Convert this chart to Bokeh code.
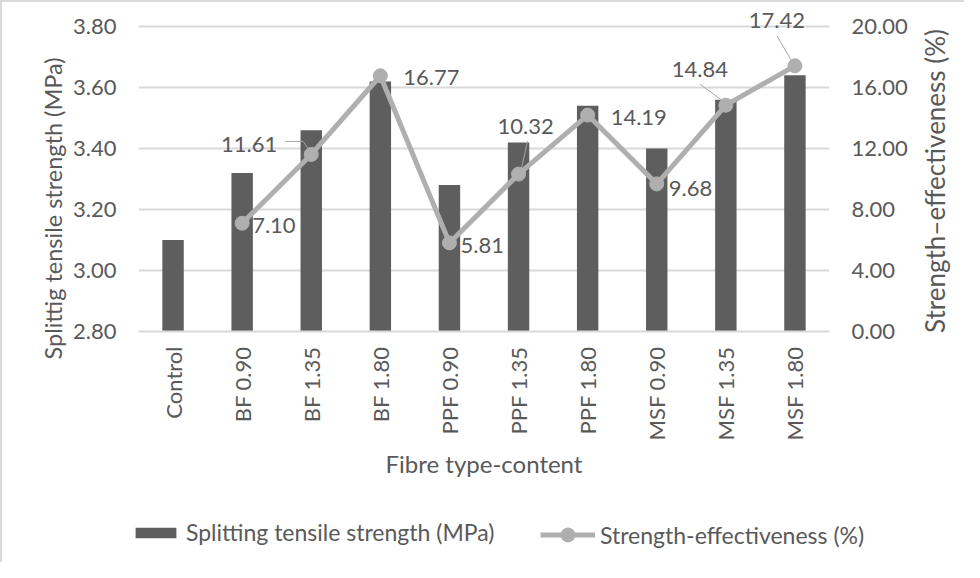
import math
from bokeh.plotting import figure
from bokeh.layouts import column, row
from bokeh.models import (Range1d, LinearAxis, FixedTicker, Legend, LegendItem,
                          ColumnDataSource, NumeralTickFormatter)
from bokeh.core.properties import value
from bokeh.embed import file_html
from bokeh.resources import INLINE

# ---------------- data ----------------
categories = ["Control", "BF 0.90", "BF 1.35", "BF 1.80", "PPF 0.90",
              "PPF 1.35", "PPF 1.80", "MSF 0.90", "MSF 1.35", "MSF 1.80"]
strength = [3.10, 3.32, 3.46, 3.62, 3.28, 3.42, 3.54, 3.40, 3.56, 3.64]
effectiveness = [float("nan"), 7.10, 11.61, 16.77, 5.81, 10.32, 14.19, 9.68, 14.84, 17.42]
left_ticks = [2.80, 3.00, 3.20, 3.40, 3.60, 3.80]
right_ticks = [0.0, 4.0, 8.0, 12.0, 16.0, 20.0]
x_title = "Fibre type-content"
left_title = "Splittig tensile strength (MPa)"
right_title = "Strength\u2013effectiveness (%)"
series_names = ["Splitting tensile strength (MPa)", "Strength-effectiveness (%)"]

# ---------------- style ----------------
FONT = "Lato"
TXT = "#595959"
GRID = "#d9d9d9"
BAR = "#5e5e5e"
LINE = "#afafaf"
BORDER = "2px solid #d9d9d9"

W4, W1, W3 = 70, 840, 54          # left title strip, chart, right title strip
H1, H2 = 502, 60                  # chart row, legend strip
GRID_H = 305                      # pixel height from lowest to highest gridline
TOP_PAD = 20                      # room above the top gridline for data labels
BL, BR, BT = 67, 80, 4
BB = H1 - BT - GRID_H - TOP_PAD
frame_w = W1 - BL - BR

n = len(categories)
xpos = [i + 0.5 for i in range(n)]

l_span = left_ticks[-1] - left_ticks[0]
r_span = right_ticks[-1] - right_ticks[0]
p = figure(width=W1, height=H1, output_backend="svg", toolbar_location=None,
           x_range=Range1d(0, n),
           y_range=Range1d(left_ticks[0], left_ticks[-1] + l_span * TOP_PAD / GRID_H),
           min_border_left=BL, min_border_right=BR, min_border_top=BT, min_border_bottom=BB)
p.styles = {"border-top": BORDER}
p.outline_line_color = None
p.background_fill_color = "white"
p.border_fill_color = "white"
p.extra_y_ranges = {"eff": Range1d(right_ticks[0], right_ticks[-1] + r_span * TOP_PAD / GRID_H)}

# bars
p.vbar(x=xpos, top=strength, bottom=left_ticks[0], width=0.31,
       fill_color=BAR, line_color=None)

# line + markers
src = ColumnDataSource(dict(x=xpos, y=effectiveness))
p.line("x", "y", source=src, y_range_name="eff", line_color=LINE, line_width=5)
p.scatter("x", "y", source=src, y_range_name="eff", size=14,
          fill_color=LINE, line_color=LINE)

# data labels (screen offsets and alignments are style)
lab_dx = [0, 10, -34, 23, 11, 7, 23, 12, -26, -18]
lab_dy = [0, 2, -10, 2, 3, -48, 2, 5, -36, -45]
lab_al = ["left", "left", "right", "left", "left", "center", "left", "left", "center", "center"]
for al in ["left", "right", "center"]:
    idx = [i for i in range(n) if lab_al[i] == al and not math.isnan(effectiveness[i])]
    d = dict(x=[xpos[i] for i in idx], y=[effectiveness[i] for i in idx],
             t=["%.2f" % effectiveness[i] for i in idx],
             dx=[lab_dx[i] for i in idx], dy=[lab_dy[i] for i in idx])
    p.text("x", "y", text="t", x_offset="dx", y_offset="dy", source=ColumnDataSource(d),
           y_range_name="eff", text_font=value(FONT), text_font_size="22px",
           text_color=TXT, text_align=al, text_baseline="middle")

# leader lines (pixel offsets from markers)
px_x = frame_w / n
px_y = GRID_H / r_span
leaders = {2: [(-26, -13), (-8, -13), (-2, -4)],
           5: [(9, -33), (3, -6)],
           8: [(-26, -21), (-4, -5)],
           9: [(-18, -30), (-4, -6)]}
xs, ys = [], []
for i, pts in leaders.items():
    xs.append([xpos[i] + dx / px_x for dx, dy in pts])
    ys.append([effectiveness[i] - dy / px_y for dx, dy in pts])
p.multi_line(xs, ys, y_range_name="eff", line_color="#a6a6a6", line_width=1)

# axes
p.xaxis.ticker = FixedTicker(ticks=xpos)
p.xaxis.major_label_overrides = {x: c for x, c in zip(xpos, categories)}
p.xaxis.major_label_orientation = math.pi / 2
p.xaxis.axis_line_color = GRID
p.xaxis.axis_line_width = 2
p.xaxis.major_tick_line_color = None
p.xaxis.minor_tick_line_color = None
p.xaxis.major_tick_out = 0
p.xaxis.major_tick_in = 0
p.xaxis.major_label_standoff = 15
p.xaxis.major_label_text_font = FONT
p.xaxis.major_label_text_font_size = "22px"
p.xaxis.major_label_text_color = TXT
p.xaxis.axis_label = x_title
p.xaxis.axis_label_text_font = FONT
p.xaxis.axis_label_text_font_size = "24px"
p.xaxis.axis_label_text_font_style = "normal"
p.xaxis.axis_label_text_color = TXT
p.xaxis.axis_label_standoff = 6
p.xgrid.grid_line_color = None

ly = p.yaxis[0]
ly.ticker = FixedTicker(ticks=left_ticks)
ly.formatter = NumeralTickFormatter(format="0.00")
ly.axis_line_color = None
ly.major_tick_line_color = None
ly.minor_tick_line_color = None
ly.major_tick_out = 0
ly.major_tick_in = 0
ly.major_label_standoff = 22
ly.major_label_text_font = FONT
ly.major_label_text_font_size = "22px"
ly.major_label_text_color = TXT
p.ygrid.ticker = FixedTicker(ticks=left_ticks)
p.ygrid.grid_line_color = GRID
p.ygrid.grid_line_width = 2

ry = LinearAxis(y_range_name="eff", ticker=FixedTicker(ticks=right_ticks),
                formatter=NumeralTickFormatter(format="0.00"))
ry.axis_line_color = None
ry.major_tick_line_color = None
ry.minor_tick_line_color = None
ry.major_tick_out = 0
ry.major_tick_in = 0
ry.major_label_standoff = 22
ry.major_label_text_font = FONT
ry.major_label_text_font_size = "22px"
ry.major_label_text_color = TXT
p.add_layout(ry, "right")


def strip(w, h, styles):
    f = figure(width=w, height=h, output_backend="svg", toolbar_location=None,
               x_range=Range1d(0, w), y_range=Range1d(0, h),
               x_axis_location=None, y_axis_location=None, min_border=0)
    f.styles = styles
    f.outline_line_color = None
    f.grid.visible = False
    return f


# rotated axis titles in narrow strips beside the chart
p4 = strip(W4, H1, {"border-left": BORDER, "border-top": BORDER})
p4.text(x=[50], y=[H1 - 206], text=[left_title], angle=math.pi / 2,
        text_font=value(FONT), text_font_size="23.5px", text_color=TXT,
        text_align="center", text_baseline="middle")
p3 = strip(W3, H1, {"border-top": BORDER})
p3.text(x=[24], y=[H1 - 178.5], text=[right_title], angle=math.pi / 2,
        text_font=value(FONT), text_font_size="26px", text_color=TXT,
        text_align="center", text_baseline="middle")

# legend strip (its glyph renderers lie outside the strip's view)
p2 = strip(W4 + W1 + W3, H2, {"border-left": BORDER})
p2.x_range = Range1d(-3, -2)
p2.y_range = Range1d(-3, -2)
lb = p2.vbar(x=xpos, top=strength, width=0.31, fill_color=BAR, line_color=None)
ll = p2.line(xpos, effectiveness, line_color=LINE, line_width=5)
lm = p2.scatter(xpos, effectiveness, size=14, fill_color=LINE, line_color=LINE)
leg_style = dict(orientation="horizontal", label_standoff=5, padding=0, margin=0,
                 border_line_color=None, background_fill_alpha=0,
                 label_text_font=FONT, label_text_font_size="23px",
                 label_text_color=TXT, label_height=24)
legend_a = Legend(items=[LegendItem(label=series_names[0], renderers=[lb])],
                  location=(128, 16), glyph_width=51, glyph_height=13, **leg_style)
legend_b = Legend(items=[LegendItem(label=series_names[1], renderers=[ll, lm])],
                  location=(538, 10), glyph_width=55, glyph_height=35, **leg_style)
p2.add_layout(legend_a, "center")
p2.add_layout(legend_b, "center")

for fig in (p, p2, p3, p4):
    try:
        fig.frame_align = False
    except Exception:
        pass

layout = column(row(p4, p, p3, spacing=0), p2, spacing=0)
open("out.html", "w").write(file_html(layout, INLINE))
